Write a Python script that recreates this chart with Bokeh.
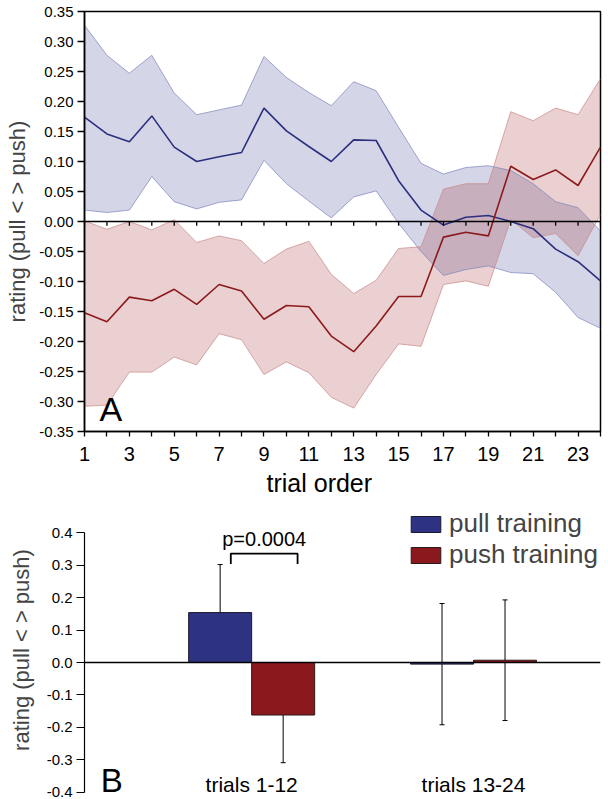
from bokeh.plotting import figure
from bokeh.models import (Range1d, FixedTicker, PrintfTickFormatter, Span, Label, Title,
                          Whisker, TeeHead, ColumnDataSource, Legend, LegendItem)
from bokeh.layouts import column
from bokeh.core.properties import value
from bokeh.embed import file_html
from bokeh.resources import INLINE

FONT = "Liberation Sans"

# ---------------- Panel A data ----------------
trials = list(range(1, 25))
pull_mean = [0.174, 0.146, 0.133, 0.176, 0.124, 0.100, 0.108, 0.115, 0.189, 0.151, 0.125, 0.100,
             0.136, 0.135, 0.068, 0.019, -0.006, 0.007, 0.010, 0.000, -0.012, -0.046, -0.067, -0.099]
pull_upper = [0.327, 0.277, 0.247, 0.277, 0.214, 0.178, 0.186, 0.194, 0.275, 0.240, 0.215, 0.193,
              0.233, 0.218, 0.157, 0.097, 0.079, 0.090, 0.093, 0.085, 0.063, 0.033, 0.023, -0.016]
pull_lower = [0.019, 0.015, 0.019, 0.075, 0.033, 0.021, 0.032, 0.036, 0.102, 0.063, 0.034, 0.006,
              0.041, 0.051, -0.003, -0.050, -0.090, -0.080, -0.074, -0.085, -0.087, -0.118, -0.160, -0.178]
push_mean = [-0.152, -0.167, -0.126, -0.132, -0.113, -0.138, -0.105, -0.116, -0.163, -0.140, -0.142, -0.191,
             -0.217, -0.174, -0.125, -0.125, -0.026, -0.018, -0.024, 0.092, 0.070, 0.086, 0.060, 0.124]
push_upper = [0.001, -0.013, 0.000, -0.014, 0.003, -0.035, -0.024, -0.032, -0.070, -0.046, -0.033, -0.088,
              -0.120, -0.098, -0.045, -0.042, 0.054, 0.063, 0.063, 0.183, 0.168, 0.189, 0.178, 0.238]
push_lower = [-0.308, -0.306, -0.251, -0.251, -0.226, -0.239, -0.187, -0.197, -0.255, -0.234, -0.252, -0.293,
              -0.311, -0.255, -0.204, -0.208, -0.105, -0.099, -0.108, 0.003, -0.027, -0.020, -0.057, 0.012]
a_yticks = [-0.35, -0.30, -0.25, -0.20, -0.15, -0.10, -0.05, 0.0, 0.05, 0.10, 0.15, 0.20, 0.25, 0.30, 0.35]
a_xticks_major = [1, 3, 5, 7, 9, 11, 13, 15, 17, 19, 21, 23]
a_xticks_minor = [2, 4, 6, 8, 10, 12, 14, 16, 18, 20, 22, 24]

# ---------------- Panel B data ----------------
groups = ["trials 1-12", "trials 13-24"]
group_pos = [1, 2]
pull_bar = [0.154, -0.005]
pull_err = [0.148, 0.187]
push_bar = [-0.162, 0.007]
push_err = [0.147, 0.186]
b_yticks = [-0.4, -0.3, -0.2, -0.1, 0.0, 0.1, 0.2, 0.3, 0.4]
p_text = "p=0.0004"

BLUE_LINE = "#2b2f7e"
RED_LINE = "#8c1a1d"
BLUE_FILL = "#28328c"
RED_FILL = "#961414"
BLUE_BAR = "#2e3283"
RED_BAR = "#8a181c"

# ================= Panel A =================
pA = figure(width=608, height=500, x_range=Range1d(1, 24), y_range=Range1d(-0.35, 0.35),
            output_backend="svg", toolbar_location=None,
            min_border_left=83, min_border_right=8, min_border_top=11, min_border_bottom=69)
pA.grid.visible = False
pA.outline_line_color = "black"
pA.outline_line_width = 1.5

pA.varea(x=trials, y1=pull_lower, y2=pull_upper, fill_color=BLUE_FILL, fill_alpha=0.2)
pA.varea(x=trials, y1=push_lower, y2=push_upper, fill_color=RED_FILL, fill_alpha=0.2)
for ys in (pull_lower, pull_upper):
    pA.line(trials, ys, line_color="#7f84bd", line_width=0.8, line_alpha=0.9)
for ys in (push_lower, push_upper):
    pA.line(trials, ys, line_color="#c98a8a", line_width=0.8, line_alpha=0.9)
pA.line(trials, pull_mean, line_color=BLUE_LINE, line_width=1.6)
pA.line(trials, push_mean, line_color=RED_LINE, line_width=1.6)

pA.add_layout(Span(location=0, dimension="width", line_color="black", line_width=1.5))
pA.segment(x0=trials, y0=[0] * len(trials), x1=trials, y1=[-0.007] * len(trials),
           line_color="black", line_width=1.3)

xa = pA.xaxis[0]
xa.ticker = FixedTicker(ticks=a_xticks_major, minor_ticks=a_xticks_minor)
xa.major_tick_in = 0
xa.major_tick_out = 5
xa.minor_tick_in = 0
xa.minor_tick_out = 5
xa.axis_line_width = 1.5
xa.major_tick_line_width = 1.3
xa.minor_tick_line_width = 1.3
xa.major_label_text_font = FONT
xa.major_label_text_font_size = "20px"
xa.major_label_text_color = "black"
xa.major_label_standoff = 10

pA.add_layout(Title(text="trial order", align="left", offset=182, standoff=6,
                    text_font=FONT, text_font_size="25px", text_font_style="normal",
                    text_color="black"), "below")

ya = pA.yaxis[0]
ya.ticker = FixedTicker(ticks=a_yticks, minor_ticks=[])
ya.formatter = PrintfTickFormatter(format="%.2f")
ya.major_tick_in = 0
ya.major_tick_out = 7
ya.axis_line_width = 1.5
ya.major_tick_line_width = 1.3
ya.major_label_text_font = FONT
ya.major_label_text_font_size = "15px"
ya.major_label_text_color = "black"
ya.major_label_standoff = 4
ya.axis_label = "rating (pull < > push)"
ya.axis_label_text_font = FONT
ya.axis_label_text_font_size = "22px"
ya.axis_label_text_font_style = "normal"
ya.axis_label_standoff = 6

pA.add_layout(Label(x=1.67, y=-0.313, text="A", text_font=FONT, text_font_size="34px",
                    text_baseline="middle", text_color="black"))

# ================= Panel B =================
half = 0.142
bw = 0.284
b_lo, b_hi = -0.4, 0.4
px_per_unit = 324.25
pB = figure(width=608, height=299, x_range=Range1d(0.2466, 2.5723),
            y_range=Range1d(b_lo - 7.3 / px_per_unit, b_hi + 32.3 / px_per_unit),
            output_backend="svg", toolbar_location=None, x_axis_location=None,
            min_border_left=84, min_border_right=6, min_border_top=0, min_border_bottom=0)
pB.grid.visible = False
pB.outline_line_color = None

pull_x = [g - half for g in group_pos]
push_x = [g + half for g in group_pos]
r_pull = pB.vbar(x=pull_x, top=pull_bar, bottom=0, width=bw, fill_color=BLUE_BAR,
                 line_color="#1a1a2a", line_width=1)
r_push = pB.vbar(x=push_x, top=push_bar, bottom=0, width=bw, fill_color=RED_BAR,
                 line_color="#2a1a1a", line_width=1)

pB.add_layout(Span(location=0, dimension="width", line_color="black", line_width=1.5))

src_pull = ColumnDataSource(dict(x=pull_x, up=[m + e for m, e in zip(pull_bar, pull_err)],
                                 lo=[m - e for m, e in zip(pull_bar, pull_err)]))
src_push = ColumnDataSource(dict(x=push_x, up=[m + e for m, e in zip(push_bar, push_err)],
                                 lo=[m - e for m, e in zip(push_bar, push_err)]))
for src in (src_pull, src_push):
    pB.add_layout(Whisker(source=src, base="x", upper="up", lower="lo", line_color="black",
                          line_width=1,
                          upper_head=TeeHead(size=5, line_color="black", line_width=1),
                          lower_head=TeeHead(size=5, line_color="black", line_width=1)))

# significance bracket between the first pair
sig_left = pull_x[0] + 0.048
sig_right = push_x[0] + 0.065
sig_top = 0.336
sig_leg = 0.304
pB.line([sig_left, sig_left, sig_right, sig_right], [sig_leg, sig_top, sig_top, sig_leg],
        line_color="black", line_width=1.8)
pB.text(x=[(sig_left + sig_right) / 2], y=[0.36 + 0.35 * 20 / px_per_unit], text=[p_text],
        text_font=value(FONT), text_font_size="20px", text_align="center",
        text_baseline="middle", text_color="black")

pB.text(x=group_pos, y=[b_lo + 0.35 * 21 / px_per_unit] * len(group_pos), text=groups,
        text_font=value(FONT), text_font_size="21px", text_align="center",
        text_baseline="middle", text_color="black")

pB.add_layout(Label(x=0.32, y=b_lo + 0.35 * 33 / px_per_unit, text="B", text_font=FONT,
                    text_font_size="33px", text_baseline="middle", text_color="black"))

yb = pB.yaxis[0]
yb.ticker = FixedTicker(ticks=b_yticks, minor_ticks=[])
yb.bounds = (b_lo, b_hi)
yb.formatter = PrintfTickFormatter(format="%.1f")
yb.major_tick_in = 0
yb.major_tick_out = 8
yb.axis_line_width = 1.2
yb.major_tick_line_width = 1.2
yb.major_label_text_font = FONT
yb.major_label_text_font_size = "15px"
yb.major_label_text_color = "black"
yb.major_label_standoff = 4
yb.axis_label = "rating (pull < > push)"
yb.axis_label_text_font = FONT
yb.axis_label_text_font_size = "22px"
yb.axis_label_text_font_style = "normal"
yb.axis_label_standoff = 10

legend = Legend(items=[LegendItem(label="pull training", renderers=[r_pull]),
                       LegendItem(label="push training", renderers=[r_push])],
                location=(323, 229), glyph_width=37, glyph_height=20, label_height=28,
                label_text_font=FONT, label_text_font_size="26px", label_standoff=5,
                spacing=0, padding=0, margin=0, border_line_color=None,
                background_fill_alpha=0)
pB.add_layout(legend)

layout = column(pA, pB, spacing=0)
open("out.html", "w").write(file_html(layout, INLINE))
